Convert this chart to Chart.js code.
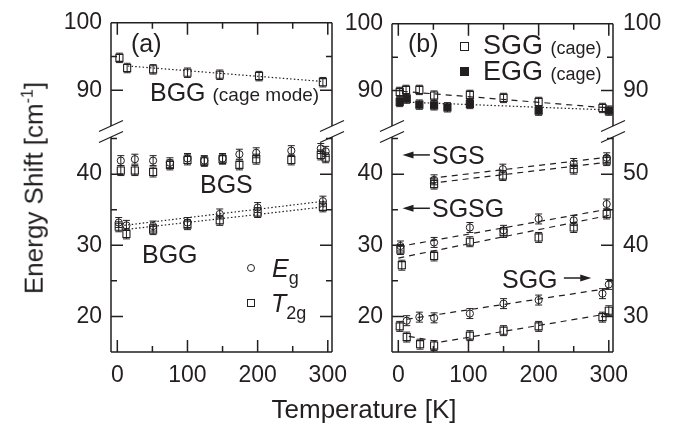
<!DOCTYPE html>
<html>
<head>
<meta charset="utf-8">
<script src="https://cdn.jsdelivr.net/npm/chart.js@4.4.1/dist/chart.umd.min.js"></script>
<style>
  html, body { margin: 0; padding: 0; background: #fff; }
  #wrap { position: relative; width: 680px; height: 433px; overflow: hidden; }
  canvas { position: absolute; left: 0; top: 0; }
  .t { position: absolute; font-family: 'Liberation Sans', Arial, sans-serif; color: #231f20;
       line-height: 1; white-space: nowrap; font-size: 25px; }
  .s { font-size: 19px; }
  .sub { font-size: 18px; font-style: normal; position: relative; top: 7px; }
  .mk { position: absolute; box-sizing: border-box; border: 1.2px solid #231f20; }
</style>
</head>
<body>
<div id="wrap">
  <canvas id="aTop" width="680" height="433"></canvas>
  <canvas id="aBot" width="680" height="433"></canvas>
  <canvas id="bTop" width="680" height="433"></canvas>
  <canvas id="bBot" width="680" height="433"></canvas>

  <div class="t" style="left:131px;top:31px">(a)</div>
  <div class="t" style="left:150px;top:80px">BGG <span class="s">(cage mode)</span></div>
  <div class="t" style="left:200px;top:172px">BGS</div>
  <div class="t" style="left:142px;top:242px">BGG</div>
  <div class="mk" style="left:247px;top:264px;width:8px;height:8px;border-radius:50%"></div>
  <div class="t" style="left:272px;top:256px;font-style:italic">E<span class="sub">g</span></div>
  <div class="mk" style="left:247px;top:299px;width:8px;height:8px"></div>
  <div class="t" style="left:271px;top:291px;font-style:italic">T<span class="sub">2g</span></div>

  <div class="t" style="left:408px;top:31px">(b)</div>
  <div class="mk" style="left:460px;top:42px;width:9px;height:9px"></div>
  <div class="t" style="left:483px;top:32px;font-size:27px">SGG <span class="s" style="font-size:18px">(cage)</span></div>
  <div class="mk" style="left:460px;top:67px;width:9px;height:9px;background:#231f20"></div>
  <div class="t" style="left:483px;top:58px;font-size:27px">EGG <span class="s" style="font-size:18px">(cage)</span></div>
  <div class="t" style="left:432px;top:143px">SGS</div>
  <div class="t" style="left:432px;top:196px">SGSG</div>
  <div class="t" style="left:502px;top:267px">SGG</div>

  <div class="t" style="left:33px;top:188px;font-size:26px;transform:translate(-50%,-50%) rotate(-90deg)">Energy Shift [cm<sup style="font-size:16px">-1</sup>]</div>
  <div class="t" style="left:364px;top:409px;font-size:26px;transform:translate(-50%,-50%)">Temperature [K]</div>
</div>

<script>
const ink = '#231f20';
const xTicks = [0, 50, 100, 150, 200, 250, 300];

// Panel (a): BGG cage mode (T2g)
const aCageT = [3, 14, 51, 100, 146, 202, 293];
const aCageVal = [94.8, 93.3, 93.1, 92.6, 92.3, 92.1, 91.2];
const aCageFitT = [15, 293];
const aCageFitVal = [93.6, 91.3];

// Panel (a): BGS
const bgsT = [5, 25, 51, 75, 100, 124, 150, 174, 198, 248, 290, 297];
const bgsEg = [41.9, 42.1, 41.9, 41.6, 42.2, 41.9, 42.2, 42.8, 43.0, 43.3, 43.6, 43.2];
const bgsT2g = [40.5, 40.5, 40.3, 41.3, 42.0, 41.8, 42.1, 41.3, 42.1, 42.0, 42.7, 42.3];

// Panel (a): BGG
const bggT = [2, 13, 51, 100, 146, 200, 293];
const bggEg = [33.2, 32.8, 32.7, 33.2, 34.4, 35.3, 36.2];
const bggT2g = [32.6, 31.6, 32.2, 32.9, 33.5, 34.6, 35.4];
const bggFitT = [10, 295];
const bggFitEg = [32.8, 36.2];
const bggFitT2g = [32.2, 35.4];

// Panel (b): cage modes
const sggCageT = [2, 11, 30, 51, 102, 150, 200, 291];
const sggCageVal = [89.8, 90.1, 90.1, 89.25, 89.35, 88.9, 88.3, 87.4];
const eggCageT = [2, 12, 30, 51, 70, 102, 200, 300];
const eggCageVal = [88.3, 88.8, 87.9, 87.8, 87.5, 88.0, 87.0, 87.0];
const sggCageFitT = [5, 300];
const sggCageFitVal = [89.9, 87.4];
const eggCageFitT = [5, 300];
const eggCageFitVal = [88.3, 87.1];

// Panel (b): SGS (left axis)
const sgsT = [51, 149, 250, 297];
const sgsEg = [39.2, 40.7, 41.5, 42.3];
const sgsT2g = [38.6, 39.8, 40.7, 41.9];
const sgsFitT = [45, 300];
const sgsFitEg = [39.4, 42.4];
const sgsFitT2g = [38.7, 41.7];

// Panel (b): SGSG (left axis)
const sgsgEgT = [3, 51, 102, 150, 200, 250, 297];
const sgsgEg = [29.9, 30.4, 32.5, 32.1, 33.7, 33.5, 35.8];
const sgsgT2gT = [3, 5, 51, 102, 150, 200, 250, 297];
const sgsgT2g = [29.4, 27.2, 28.5, 30.5, 31.8, 31.1, 32.5, 34.4];
const sgsgFitT = [0, 300];
const sgsgFitEg = [29.8, 35.1];
const sgsgFitT2g = [28.2, 34.2];

// Panel (b): SGG (right axis)
const sggEgT = [12, 30, 51, 102, 150, 200, 291, 300];
const sggEg = [29.4, 29.9, 29.8, 30.4, 31.8, 32.3, 33.2, 34.5];
const sggT2gT = [2, 12, 31, 51, 102, 150, 200, 291, 300];
const sggT2g = [28.6, 27.1, 26.1, 25.9, 27.3, 28.0, 28.6, 29.9, 30.8];
const sggFitEgT = [12, 300];
const sggFitEg = [29.6, 33.95];
const sggFitT2gT = [15, 60, 300];
const sggFitT2g = [27.2, 26.4, 30.4];

const pts = (xs, ys) => xs.map((x, i) => ({x, y: ys[i]}));

function circles(xs, ys, axis) {
  return { data: pts(xs, ys), yAxisID: axis || 'y', pointStyle: 'circle', pointRadius: 3.6,
    borderColor: ink, borderWidth: 1, backgroundColor: 'rgba(0,0,0,0)', err: 0.7, clip: false };
}
function squares(xs, ys, axis, filled) {
  return { data: pts(xs, ys), yAxisID: axis || 'y', pointStyle: 'rect', pointRadius: 5,
    borderColor: ink, borderWidth: 1.1, backgroundColor: filled ? ink : 'rgba(0,0,0,0)', err: 0.7, clip: false };
}
function fit(xs, ys, dash, axis) {
  return { data: pts(xs, ys), yAxisID: axis || 'y', showLine: true, pointRadius: 0,
    borderColor: ink, borderWidth: 1.2, borderDash: dash, clip: false };
}
const dotted = [1.5, 2.2];
const dashed = [6, 5];

// frame, inward ticks and axis break marks
const framePlugin = {
  id: 'frame',
  afterDraw(chart, args, opts) {
    const {ctx, chartArea: a, scales} = chart;
    const top = opts.side === 'top';
    const edge = top ? a.top : a.bottom;
    const y0 = top ? a.top : a.top + 2;
    const y1 = top ? a.bottom + 2 : a.bottom;
    ctx.save();
    ctx.strokeStyle = ink;
    ctx.lineWidth = 1.5;
    ctx.beginPath();
    ctx.moveTo(a.left, y0); ctx.lineTo(a.left, y1);
    ctx.moveTo(a.right, y0); ctx.lineTo(a.right, y1);
    ctx.moveTo(a.left, edge); ctx.lineTo(a.right, edge);
    const dir = top ? 1 : -1;
    xTicks.forEach(v => {
      const px = scales.x.getPixelForValue(v);
      const len = v % 100 === 0 ? 12 : 6;
      ctx.moveTo(px, edge); ctx.lineTo(px, edge + dir * len);
    });
    scales.y.ticks.forEach(t => {
      if (t.value <= scales.y.min || t.value >= scales.y.max) return;
      const py = scales.y.getPixelForValue(t.value);
      const len = t.value % 10 === 0 ? 12 : 6;
      ctx.moveTo(a.left, py); ctx.lineTo(a.left + len, py);
      ctx.moveTo(a.right, py); ctx.lineTo(a.right - len, py);
    });
    ctx.stroke();
    ctx.lineWidth = 1.3;
    ctx.beginPath();
    const by = top ? a.bottom + 2 : a.top + 2;
    [a.left, a.right].forEach(px => {
      ctx.moveTo(px - 12, by + 5.5); ctx.lineTo(px + 12, by - 5.5);
    });
    ctx.stroke();
    ctx.restore();
  }
};

const errorBars = {
  id: 'errorBars',
  afterDatasetsDraw(chart) {
    const ctx = chart.ctx;
    ctx.save();
    ctx.strokeStyle = ink;
    ctx.lineWidth = 1;
    chart.data.datasets.forEach((ds, i) => {
      if (!ds.err) return;
      const ys = chart.scales[ds.yAxisID];
      const meta = chart.getDatasetMeta(i);
      ctx.beginPath();
      meta.data.forEach((pt, j) => {
        const v = ds.data[j].y;
        const t = ys.getPixelForValue(v + ds.err), b = ys.getPixelForValue(v - ds.err);
        ctx.moveTo(pt.x, t); ctx.lineTo(pt.x, b);
        ctx.moveTo(pt.x - 3.5, t); ctx.lineTo(pt.x + 3.5, t);
        ctx.moveTo(pt.x - 3.5, b); ctx.lineTo(pt.x + 3.5, b);
      });
      ctx.stroke();
    });
    ctx.restore();
  }
};

const arrowPlugin = {
  id: 'arrows',
  afterDraw(chart, args, opts) {
    const {ctx, scales} = chart;
    (opts.list || []).forEach(ar => {
      const x0 = scales.x.getPixelForValue(ar.from), x1 = scales.x.getPixelForValue(ar.to);
      const y = scales.y.getPixelForValue(ar.y);
      const d = Math.sign(x1 - x0);
      ctx.save();
      ctx.strokeStyle = ink; ctx.fillStyle = ink; ctx.lineWidth = 1.5;
      ctx.beginPath(); ctx.moveTo(x0, y); ctx.lineTo(x1 - d * 8, y); ctx.stroke();
      ctx.beginPath(); ctx.moveTo(x1, y); ctx.lineTo(x1 - d * 11, y - 3.5); ctx.lineTo(x1 - d * 11, y + 3.5);
      ctx.closePath(); ctx.fill();
      ctx.restore();
    });
  }
};

const tickFont = { family: "'Liberation Sans', Arial, sans-serif", size: 23 };
const tens = v => (v % 10 === 0 ? v : '');

function xScale(show) {
  const s = {
    type: 'linear', min: -9, max: 306, display: show,
    grid: { display: false }, border: { display: false },
    ticks: { stepSize: 50, includeBounds: false, autoSkip: false, callback: v => (v % 100 === 0 ? v : ''),
      font: tickFont, color: ink, padding: 2, maxRotation: 0 }
  };
  if (show) s.afterFit = sc => { sc.height = 50; };
  return s;
}
function yScale(min, max, pos) {
  return {
    type: 'linear', min, max, position: pos,
    grid: { display: false, drawTicks: false }, border: { display: false },
    ticks: { stepSize: 5, includeBounds: false, autoSkip: false, callback: tens,
      font: tickFont, color: ink, padding: pos === 'left' ? 9 : 10 },
    afterFit: s => { s.width = 50; }
  };
}

function makeChart(id, datasets, scales, padding, side, arrows) {
  return new Chart(document.getElementById(id), {
    type: 'scatter',
    data: { datasets },
    options: {
      responsive: false, animation: false, devicePixelRatio: 1,
      layout: { padding },
      scales,
      plugins: { legend: { display: false }, tooltip: { enabled: false },
        frame: { side }, arrows: { list: arrows || [] } }
    },
    plugins: [framePlugin, errorBars, arrowPlugin]
  });
}

// panel (a)
makeChart('aTop', [
  fit(aCageFitT, aCageFitVal, dotted),
  squares(aCageT, aCageVal)
], { x: xScale(false), y: yScale(85, 100, 'left') },
  { left: 61, right: 348, top: 18, bottom: 309 }, 'top');

makeChart('aBot', [
  fit(bggFitT, bggFitEg, dotted),
  fit(bggFitT, bggFitT2g, dotted),
  circles(bgsT, bgsEg), squares(bgsT, bgsT2g),
  circles(bggT, bggEg), squares(bggT, bggT2g)
], { x: xScale(true), y: yScale(15, 45.5, 'left') },
  { left: 61, right: 348, top: 135, bottom: 31 }, 'bottom');

// panel (b)
makeChart('bTop', [
  fit(sggCageFitT, sggCageFitVal, dashed),
  fit(eggCageFitT, eggCageFitVal, dotted),
  squares(sggCageT, sggCageVal),
  squares(eggCageT, eggCageVal, 'y', true)
], { x: xScale(false), y: yScale(85, 100, 'left'), y2: yScale(85, 100, 'right') },
  { left: 342, right: 17, top: 18, bottom: 309 }, 'top');

makeChart('bBot', [
  fit(sgsFitT, sgsFitEg, dashed), fit(sgsFitT, sgsFitT2g, dashed),
  fit(sgsgFitT, sgsgFitEg, dashed), fit(sgsgFitT, sgsgFitT2g, dashed),
  fit(sggFitEgT, sggFitEg, dashed, 'y2'), fit(sggFitT2gT, sggFitT2g, dashed, 'y2'),
  circles(sgsT, sgsEg), squares(sgsT, sgsT2g),
  circles(sgsgEgT, sgsgEg), squares(sgsgT2gT, sgsgT2g),
  circles(sggEgT, sggEg, 'y2'), squares(sggT2gT, sggT2g, 'y2')
], { x: xScale(true), y: yScale(15, 45.5, 'left'), y2: yScale(25, 55.5, 'right') },
  { left: 342, right: 17, top: 135, bottom: 31 }, 'bottom',
  [ { from: 45, to: 6, y: 42.7 }, { from: 45, to: 6, y: 35.2 }, { from: 236, to: 275, y: 25.4 } ]);
</script>
</body>
</html>
